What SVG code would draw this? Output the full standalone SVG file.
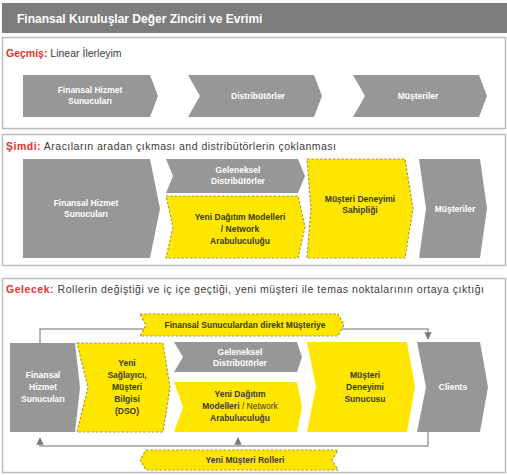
<svg xmlns="http://www.w3.org/2000/svg" width="507" height="475" viewBox="0 0 507 475">
<defs>
<style>
text{font-family:"Liberation Sans",Arial,sans-serif}
.sec{fill:#fff;stroke:#bdbdbd;stroke-width:1.5}
.g{fill:#979797}
.y{fill:#ffe600}
.yd{fill:#ffe600;stroke:#a59a4a;stroke-width:1.2;stroke-dasharray:2.5 1.8}
.tw{fill:#fff;font-size:8.5px;font-weight:bold;text-anchor:middle}
.tb{fill:#3a3a2a;font-size:8.5px;font-weight:bold;text-anchor:middle}
.lab{font-size:10.5px;fill:#3a3a3a}
.red{fill:#e8312d;font-weight:bold}
.con{fill:none;stroke:#9e9e9e;stroke-width:1.5}
</style>
<marker id="ah" viewBox="0 0 10 10" refX="9" refY="5" markerWidth="5" markerHeight="5" orient="auto"><path d="M0,0L10,5L0,10Z" fill="#7a7a7a"/></marker>
</defs>
<rect width="507" height="475" fill="#fff"/>
<g id="title">
<rect x="2" y="3" width="505" height="30" fill="#7d7d7d"/>
<text x="17" y="22.5" fill="#fff" font-size="12" font-weight="bold">Finansal Kuruluşlar Değer Zinciri ve Evrimi</text>
</g>
<g id="section1">
<rect class="sec" x="2.5" y="37.5" width="503" height="91"/>
<text class="lab" x="6" y="57"><tspan class="red">Geçmiş:</tspan> Linear İlerleyim</text>
</g>
<g id="section2">
<rect class="sec" x="2.5" y="134.5" width="503" height="131"/>
<text class="lab" x="6" y="150" textLength="330" lengthAdjust="spacing"><tspan class="red">Şimdi:</tspan> Aracıların aradan çıkması and distribütörlerin çoklanması</text>
</g>
<g id="section3">
<rect class="sec" x="2.5" y="278.5" width="503" height="194"/>
<text class="lab" x="6" y="293" textLength="478" lengthAdjust="spacing"><tspan class="red">Gelecek:</tspan> Rollerin değiştiği ve iç içe geçtiği, yeni müşteri ile temas noktalarının ortaya çıktığı</text>
</g>
<g id="connectors">
<polyline class="con" points="40,343 40,329 428,329 428,339" marker-end="url(#ah)"/>
<polyline class="con" points="428,432 428,446 40,446 40,438" marker-end="url(#ah)"/>
<polyline class="con" points="238,446 238,438" marker-end="url(#ah)"/>
</g>
<g id="r1-fhs">
<path class="g" d="M23,75L150,75L158,96L150,117L23,117Z"/>
<text class="tw" x="90" y="93">Finansal Hizmet</text>
<text class="tw" x="90" y="104">Sunucuları</text>
</g>
<g id="r1-dist">
<path class="g" d="M188,75L314,75L322,96L314,117L188,117L200,96Z"/>
<text class="tw" x="258" y="99">Distribütörler</text>
</g>
<g id="r1-mus">
<path class="g" d="M353,75L479,75L487,96L479,117L353,117L365,96Z"/>
<text class="tw" x="418" y="99">Müşteriler</text>
</g>
<g id="r2-fhs">
<path class="g" d="M23,159L150,159L160,208.5L150,258L23,258Z"/>
<text class="tw" x="86" y="206">Finansal Hizmet</text>
<text class="tw" x="86" y="217">Sunucuları</text>
</g>
<g id="r2-gel">
<path class="g" d="M166,159L298,159L305,176L298,193L166,193L173,176Z"/>
<text class="tw" x="238" y="173">Geleneksel</text>
<text class="tw" x="238" y="184">Distribütörler</text>
</g>
<g id="r2-yeni">
<path class="yd" d="M166,196L298,196L305,227L298,258L166,258L173,227Z"/>
<text class="tb" x="240" y="220">Yeni Dağıtım Modelleri</text>
<text class="tb" x="240" y="232" font-weight="normal">/ Network</text>
<text class="tb" x="240" y="244" font-weight="normal">Arabuluculuğu</text>
</g>
<g id="r2-mds">
<path class="yd" d="M307,159L405,159L413,208.5L405,258L307,258L311,208.5Z"/>
<text class="tb" x="360" y="202">Müşteri Deneyimi</text>
<text class="tb" x="360" y="213">Sahipliği</text>
</g>
<g id="r2-mus">
<path class="g" d="M419,159L480,159L487,208.5L480,258L419,258L426,208.5Z"/>
<text class="tw" x="455" y="212">Müşteriler</text>
</g>
<g id="r3-top">
<path class="yd" d="M140,314L338,314L344,325L338,336L140,336L146,325Z"/>
<text class="tb" x="245" y="328">Finansal Sunuculardan direkt Müşteriye</text>
</g>
<g id="r3-fhs">
<path class="g" d="M10,343L75,343L80,387.5L75,432L10,432Z"/>
<text class="tw" x="43" y="378">Finansal</text>
<text class="tw" x="43" y="390">Hizmet</text>
<text class="tw" x="43" y="402">Sunucuları</text>
</g>
<g id="r3-dso">
<path class="yd" d="M77,343L163,343L170,387.5L163,432L77,432L88,387.5Z"/>
<text class="tb" x="127" y="366">Yeni</text>
<text class="tb" x="127" y="378">Sağlayıcı,</text>
<text class="tb" x="127" y="390">Müşteri</text>
<text class="tb" x="127" y="402">Bilgisi</text>
<text class="tb" x="127" y="414">(DSO)</text>
</g>
<g id="r3-gel">
<path class="g" d="M174,342L297,342L302,357L297,372L174,372L183,357Z"/>
<text class="tw" x="240" y="355">Geleneksel</text>
<text class="tw" x="240" y="366">Distribütörler</text>
</g>
<g id="r3-yeni">
<path class="y" d="M174,382L297,382L302,407L297,432L174,432L183,407Z"/>
<text class="tb" x="240" y="397">Yeni Dağıtım</text>
<text class="tb" x="240" y="409">Modelleri <tspan font-weight="normal">/ Network</tspan></text>
<text class="tb" x="240" y="421" font-weight="normal">Arabuluculuğu</text>
</g>
<g id="r3-mds">
<path class="y" d="M307,342L407,342L415,387L407,432L307,432L316,387Z"/>
<text class="tb" x="365" y="378">Müşteri</text>
<text class="tb" x="365" y="390">Deneyimi</text>
<text class="tb" x="365" y="402">Sunucusu</text>
</g>
<g id="r3-clients">
<path class="g" d="M417,342L480,342L488,387L480,432L417,432L426,387Z"/>
<text class="tw" x="453" y="390">Clients</text>
</g>
<g id="r3-bottom">
<path class="yd" d="M146,450L338,450L332,460L338,470L146,470L140,460Z"/>
<text class="tb" x="245" y="463">Yeni Müşteri Rolleri</text>
</g>
</svg>
